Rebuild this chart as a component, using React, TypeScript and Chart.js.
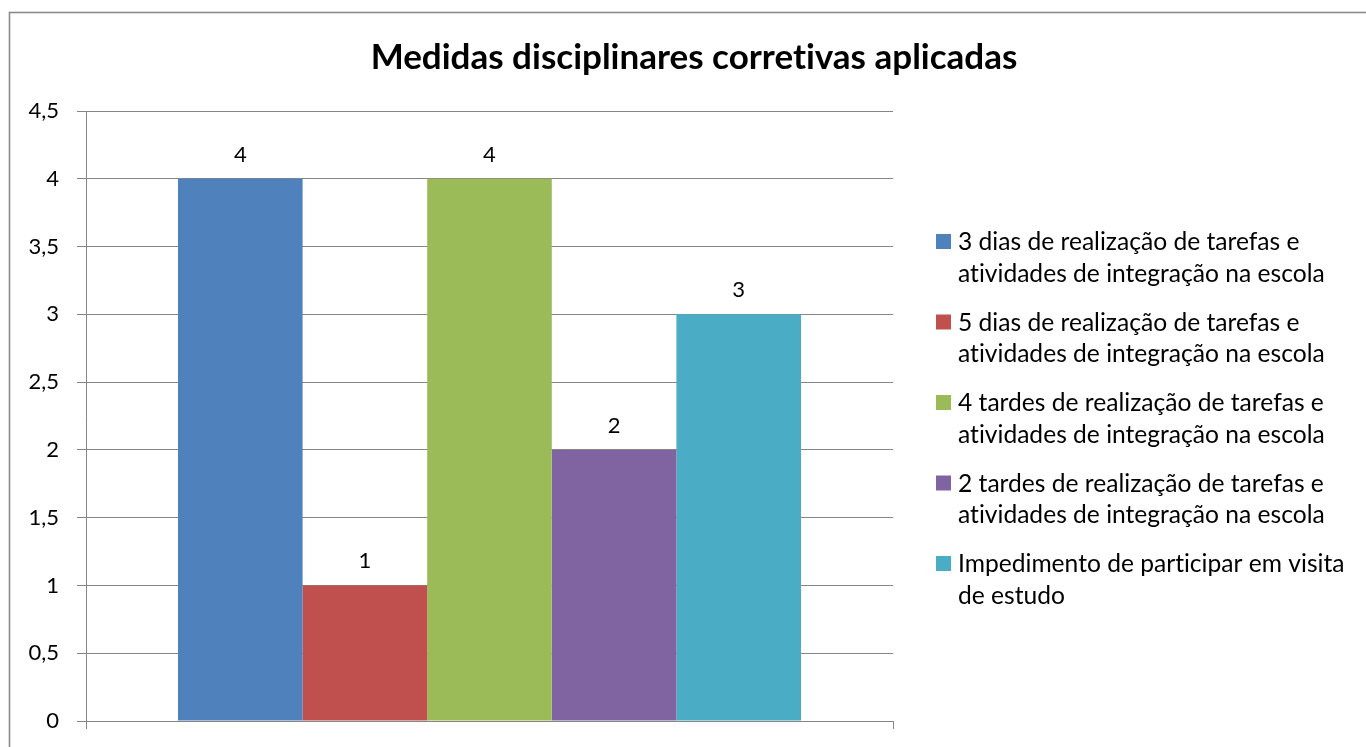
import React, { useEffect, useRef } from "react";
import { Chart, registerables } from "chart.js";

Chart.register(...registerables);

const TITLE = "Medidas disciplinares corretivas aplicadas";
const CATEGORIES = [""];
const SERIES_NAMES = [
  ["3 dias de realização de tarefas e", "atividades de integração na escola"],
  ["5 dias de realização de tarefas e", "atividades de integração na escola"],
  ["4 tardes de realização de tarefas e", "atividades de integração na escola"],
  ["2 tardes de realização de tarefas e", "atividades de integração na escola"],
  ["Impedimento de participar em visita", "de estudo"],
];
const SERIES_VALUES = [4, 1, 4, 2, 3];
const SERIES_COLORS = ["#4F81BD", "#C0504D", "#9BBB59", "#8064A2", "#4BACC6"];
const Y_MIN = 0;
const Y_MAX = 4.5;
const Y_STEP = 0.5;

const FONT = "Lato, 'Open Sans', sans-serif";
const GRID = "#868686";

const frameAndText = {
  id: "frameAndText",
  beforeDraw(chart: any) {
    const ctx = chart.ctx;
    ctx.save();
    ctx.strokeStyle = "#8a8a8a";
    ctx.lineWidth = 1.6;
    ctx.strokeRect(9.5, 12.5, 1400, 800);
    ctx.restore();
  },
  afterDraw(chart: any) {
    const ctx = chart.ctx;
    ctx.save();
    try { (ctx as any).textRendering = "optimizeSpeed"; } catch (e) {}
    // title
    ctx.fillStyle = "#000";
    ctx.font = `bold 35px ${FONT}`;
    ctx.textAlign = "center";
    ctx.textBaseline = "alphabetic";
    ctx.fillText(TITLE, 694, 69);
    // data labels
    ctx.font = `22px ${FONT}`;
    chart.data.datasets.forEach((ds: any, i: number) => {
      const meta = chart.getDatasetMeta(i);
      meta.data.forEach((bar: any, j: number) => {
        const v = ds.data[j];
        ctx.fillText(String(v).replace(".", ","), bar.x, bar.y - 17);
      });
    });
    // legend
    ctx.textAlign = "left";
    ctx.font = `24.6px ${FONT}`;
    const x0 = 936;
    const y0 = 250;
    const itemGap = 80.5;
    const lineGap = 31.5;
    SERIES_NAMES.forEach((lines, i) => {
      const by = y0 + i * itemGap;
      ctx.fillStyle = SERIES_COLORS[i];
      ctx.fillRect(x0, by - 16, 15, 15);
      ctx.fillStyle = "#000";
      lines.forEach((t, k) => ctx.fillText(t, 958, by + k * lineGap));
    });
    ctx.restore();
  },
};

export default function App() {
  const ref = useRef<HTMLCanvasElement>(null);
  useEffect(() => {
    document.body.style.margin = "0";
    const chart = new Chart(ref.current!, {
      type: "bar",
      data: {
        labels: CATEGORIES,
        datasets: SERIES_NAMES.map((n, i) => ({
          label: n.join(" "),
          data: [SERIES_VALUES[i]],
          backgroundColor: SERIES_COLORS[i],
          borderWidth: 0,
          barPercentage: 1,
          categoryPercentage: 0.772,
        })),
      },
      options: {
        animation: false,
        responsive: false,
        layout: { padding: { top: 111, right: 1366 - 893, bottom: 0, left: 0 } },
        plugins: { legend: { display: false }, title: { display: false }, tooltip: { enabled: false } },
        scales: {
          x: {
            offset: true,
            grid: {
              offset: true,
              drawOnChartArea: false,
              drawTicks: true,
              tickLength: 8,
              color: GRID,
              lineWidth: 1,
            },
            border: { display: true, color: GRID, width: 1 },
            ticks: { display: false },
            afterFit: (s: any) => {
              s.height = 26;
            },
          },
          y: {
            min: Y_MIN,
            max: Y_MAX,
            ticks: {
              stepSize: Y_STEP,
              color: "#000",
              padding: 18,
              font: { family: FONT, size: 22 },
              callback: (v: any) => String(v).replace(".", ","),
            },
            grid: { color: GRID, lineWidth: 1, tickLength: 9 },
            border: { display: true, color: GRID, width: 1 },
            afterFit: (s: any) => {
              s.width = 86;
              s.paddingTop = 0;
              s.paddingBottom = 0;
            },
          },
        },
      },
      plugins: [frameAndText],
    });
    return () => chart.destroy();
  }, []);
  return (
    <div style={{ width: 1366, height: 747, background: "#fff" }}>
      <canvas ref={ref} width={1366} height={747} style={{ display: "block" }} />
    </div>
  );
}
